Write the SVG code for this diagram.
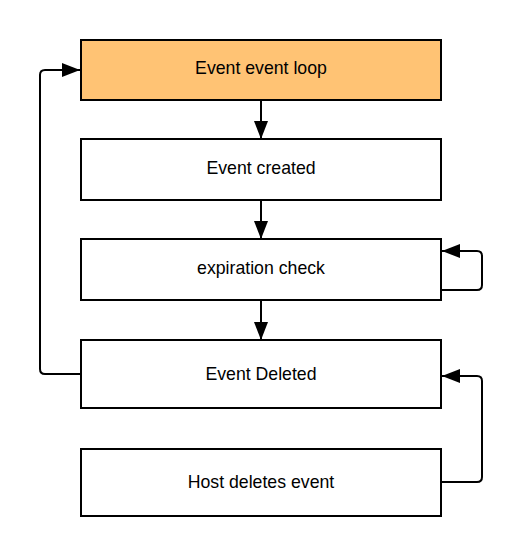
<svg xmlns="http://www.w3.org/2000/svg" width="522" height="558" viewBox="0 0 522 558">
<style>
.box{fill:#ffffff;stroke:#000000;stroke-width:2}
.hl{fill:#FFC374}
.lbl{font-family:"Liberation Sans",Arial,sans-serif;font-size:17.7px;fill:#000000;text-anchor:middle}
.edge{fill:none;stroke:#000000;stroke-width:2;marker-end:url(#ah)}
</style>
<defs>
<marker id="ah" markerUnits="userSpaceOnUse" markerWidth="20" markerHeight="16" refX="19" refY="7.5" orient="auto">
<path d="M1,0.5 L19,7.5 L1,14.5 Z" fill="#000000"/>
</marker>
</defs>
<rect width="522" height="558" fill="#ffffff"/>
<g id="connectors">
<path class="edge" d="M261,100 L261,139"/>
<path class="edge" d="M261,200 L261,239"/>
<path class="edge" d="M261,300 L261,340"/>
<path class="edge" d="M441,290 L477,290 Q482,290 482,285 L482,256 Q482,251 477,251 L442,251"/>
<path class="edge" d="M441,482 L477,482 Q482,482 482,477 L482,381 Q482,376 477,376 L442,376"/>
<path class="edge" d="M81,374 L45,374 Q40,374 40,369 L40,75 Q40,70 45,70 L80,70"/>
</g>
<g id="n1"><rect class="box hl" x="81" y="40" width="360" height="60"/><text class="lbl" x="261" y="74.3">Event event loop</text></g>
<g id="n2"><rect class="box" x="81" y="139" width="360" height="61"/><text class="lbl" x="261" y="173.5">Event created</text></g>
<g id="n3"><rect class="box" x="81" y="239" width="360" height="61"/><text class="lbl" x="261" y="274.4">expiration check</text></g>
<g id="n4"><rect class="box" x="81" y="340" width="360" height="68"/><text class="lbl" x="261" y="380">Event Deleted</text></g>
<g id="n5"><rect class="box" x="81" y="449" width="360" height="67"/><text class="lbl" x="261" y="488.4">Host deletes event</text></g>
</svg>
